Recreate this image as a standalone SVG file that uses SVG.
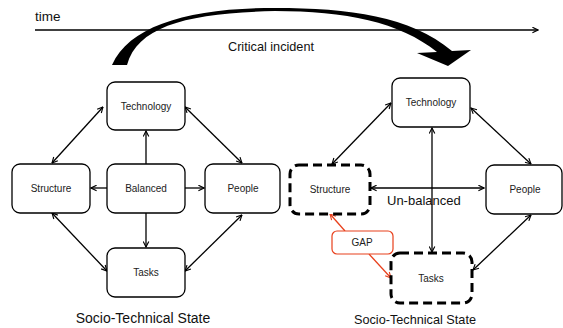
<svg xmlns="http://www.w3.org/2000/svg" width="563" height="328" viewBox="0 0 563 328">
<defs>
<style>
.box{fill:#fff;stroke:#000;stroke-width:1.3}
.dash{fill:#fff;stroke:#000;stroke-width:3;stroke-dasharray:9 5}
.gap{fill:#fff;stroke:#e8401c;stroke-width:1.2}
.lbl{font-family:"Liberation Sans",Arial,sans-serif;font-size:10px;fill:#222;text-anchor:middle}
.big{font-family:"Liberation Sans",Arial,sans-serif;fill:#111}
.cb{stroke:#000;stroke-width:1.3;fill:none;marker-end:url(#ah);marker-start:url(#ah)}
.ce{stroke:#000;stroke-width:1.3;fill:none;marker-end:url(#ah)}
.cr{stroke:#e8401c;stroke-width:1.3;fill:none;marker-end:url(#ahr)}
</style>
<marker id="ah" viewBox="0 0 10 10" refX="9" refY="5" markerWidth="7" markerHeight="7" markerUnits="userSpaceOnUse" orient="auto-start-reverse">
<path d="M1,1 L9,5 L1,9" fill="none" stroke="#000" stroke-width="1.6"/>
</marker>
<marker id="ahr" viewBox="0 0 10 10" refX="9" refY="5" markerWidth="7" markerHeight="7" markerUnits="userSpaceOnUse" orient="auto-start-reverse">
<path d="M1,1 L9,5 L1,9" fill="none" stroke="#e8401c" stroke-width="1.6"/>
</marker>
</defs>
<rect width="563" height="328" fill="#fff"/>

<g id="timeline">
<line x1="35" y1="30" x2="538" y2="30" class="ce"/>
<text x="35" y="21" class="big" font-size="13.5">time</text>
</g>

<g id="critical-incident">
<path d="M112,65 C130,25 190,8 275,8 C350,8 410,16 452,51 L471,50 L448,66 L417,53 L437,52 C400,22 345,11 275,11 C190,13 138,25 127,65 Z" fill="#000"/>
<text x="271" y="51" class="big" font-size="12.7" text-anchor="middle">Critical incident</text>
</g>

<g id="connectors">
<line x1="103" y1="107" x2="52" y2="163" class="cb"/>
<line x1="185" y1="107" x2="242" y2="163" class="cb"/>
<line x1="52" y1="213" x2="107" y2="271" class="cb"/>
<line x1="242" y1="215" x2="185" y2="271" class="cb"/>
<line x1="146" y1="164" x2="146" y2="131" class="ce"/>
<line x1="107" y1="188" x2="91" y2="188" class="ce"/>
<line x1="185" y1="188" x2="204" y2="188" class="ce"/>
<line x1="146" y1="213" x2="146" y2="247" class="ce"/>

<line x1="391" y1="103" x2="332" y2="164" class="cb"/>
<line x1="471" y1="108" x2="531" y2="164" class="cb"/>
<line x1="432" y1="128" x2="432" y2="252" class="cb"/>
<line x1="371" y1="188" x2="484" y2="188" class="cb"/>
<line x1="531" y1="215" x2="473" y2="270" class="cb"/>
<line x1="345" y1="231" x2="330" y2="214" class="cr"/>
<line x1="369" y1="254" x2="391" y2="278" class="cr"/>
</g>

<g id="l-technology"><rect x="107" y="82" width="78" height="48" rx="8" class="box"/><text x="146" y="110" class="lbl">Technology</text></g>
<g id="l-structure"><rect x="12" y="164" width="78" height="49" rx="8" class="box"/><text x="51" y="192" class="lbl">Structure</text></g>
<g id="l-balanced"><rect x="107" y="164" width="78" height="49" rx="8" class="box"/><text x="146" y="192" class="lbl">Balanced</text></g>
<g id="l-people"><rect x="205" y="164" width="75" height="49" rx="8" class="box"/><text x="243" y="192" class="lbl">People</text></g>
<g id="l-tasks"><rect x="107" y="248" width="78" height="49" rx="8" class="box"/><text x="146" y="276" class="lbl">Tasks</text></g>
<text x="143" y="323" class="big" font-size="14" text-anchor="middle">Socio-Technical State</text>

<g id="r-technology"><rect x="392" y="78" width="78" height="49" rx="8" class="box"/><text x="431" y="106" class="lbl">Technology</text></g>
<g id="r-structure"><rect x="290" y="165" width="80" height="49" rx="9" class="dash"/><text x="330" y="193" class="lbl">Structure</text></g>
<g id="r-people"><rect x="486" y="165" width="76" height="49" rx="8" class="box"/><text x="525" y="193" class="lbl">People</text></g>
<g id="r-tasks"><rect x="391" y="253" width="81" height="50" rx="9" class="dash"/><text x="431" y="282" class="lbl">Tasks</text></g>
<g id="r-gap"><rect x="332" y="231" width="61" height="23" rx="5" class="gap"/><text x="362" y="246" class="lbl">GAP</text></g>
<text x="387" y="205" class="big" font-size="13">Un-balanced</text>
<text x="415" y="324" class="big" font-size="12.7" text-anchor="middle">Socio-Technical State</text>
</svg>
